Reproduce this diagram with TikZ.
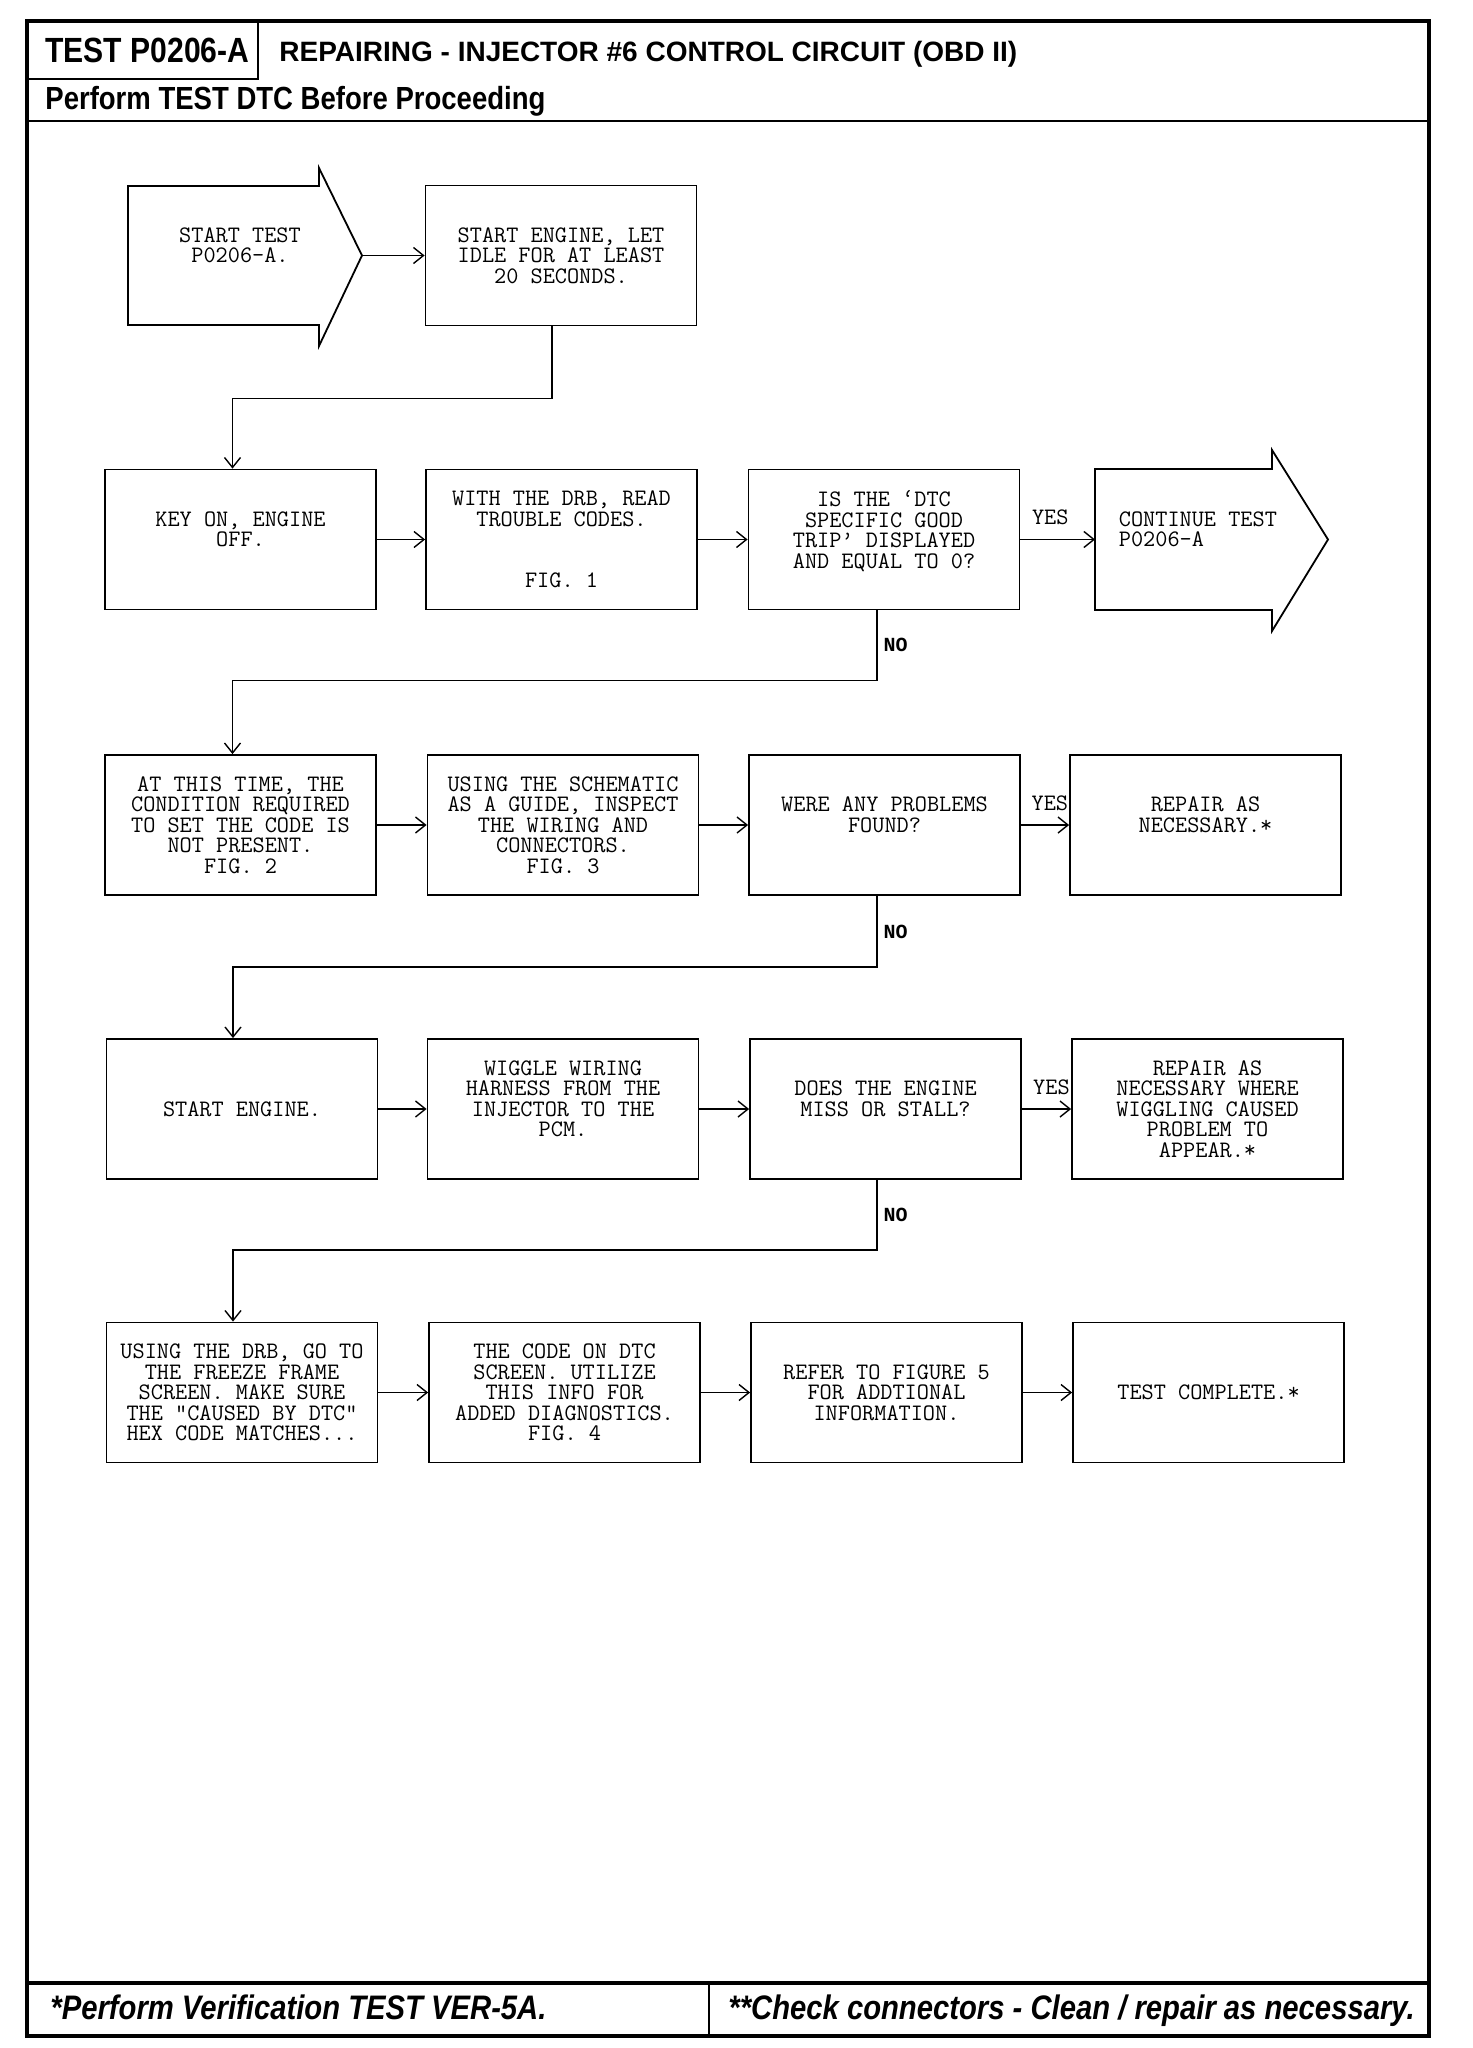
\documentclass[tikz,border=0pt]{standalone}
\usepackage{fontspec}
\newfontfamily\condfont[FakeStretch=0.86]{Liberation Sans}
\newfontfamily\plainsans{Liberation Sans}
\newfontfamily\boldmono{Liberation Mono}
\usetikzlibrary{arrows.meta,positioning}

\begin{document}
\begin{tikzpicture}[x=0.5pt,y=-0.5pt,
    stepbox/.style={draw,line width=0.9pt,minimum width=135.5pt,minimum height=70pt,align=center,inner sep=0pt,font=\ttfamily\fontsize{11.8}{10.25}\selectfont},
    link/.style={line width=0.7pt,-{Straight Barb[length=5pt,width=8pt]}},
    lbl/.style={inner sep=2pt,font=\ttfamily\fontsize{11.8}{10.25}\selectfont},
    nolbl/.style={inner sep=2pt,right=1pt,font=\boldmono\bfseries\fontsize{10}{10}\selectfont},
    rim/.style={line width=1.7pt}]

    \useasboundingbox (0,0) rectangle (1472,2048);

    \draw[rim] (27,21) rectangle (1429,2036);
    \draw[line width=1.35pt] (27,121) -- (1429,121);
    \draw[line width=1.2pt] (27,79) -- (258,79) -- (258,21);
    \draw[rim] (27,1983) -- (1429,1983);
    \draw[line width=1.2pt] (709,1983) -- (709,2036);

    \node[anchor=base west,inner sep=0pt,font=\condfont\bfseries\fontsize{17.5}{20}\selectfont] (testid) at (45,63) {TEST P0206-A};
    \node[anchor=base west,inner sep=0pt,font=\plainsans\bfseries\fontsize{14}{16}\selectfont] (title) at (279,62) {REPAIRING - INJECTOR \#6 CONTROL CIRCUIT (OBD II)};
    \node[anchor=base west,inner sep=0pt,font=\condfont\bfseries\fontsize{16}{18}\selectfont] (pretest) at (45,110) {Perform TEST DTC Before Proceeding};
    \node[anchor=base west,inner sep=0pt,font=\condfont\bfseries\itshape\fontsize{17}{19}\selectfont] (verify) at (50,2019) {*Perform Verification TEST VER-5A.};
    \node[anchor=base west,inner sep=0pt,font=\condfont\bfseries\itshape\fontsize{17}{19}\selectfont] (clean) at (728,2019) {**Check connectors - Clean / repair as necessary.};

    \draw[line width=0.9pt] (128,186) -- (319,186) -- (319,168) -- (362,255.5) -- (319,346) -- (319,325) -- (128,325) -- cycle;
    \node[stepbox,draw=none,minimum width=0pt] (start) at (240,255.5) {START TEST\\P0206-A.\\~};
    \coordinate (starttip) at (362,255.5);
    \node[stepbox] (engine) at (561,255.5) {START ENGINE, LET\\IDLE FOR AT LEAST\\20 SECONDS.};

    \node[stepbox] (keyon) at (240.5,539.5) {KEY ON, ENGINE\\OFF.\\~};
    \node[stepbox] (readcodes) at (561.5,539.5) {WITH THE DRB, READ\\TROUBLE CODES.\\~\\~\\FIG. 1};
    \node[stepbox] (dtc) at (884,539.5) {IS THE ‘DTC\\SPECIFIC GOOD\\TRIP’ DISPLAYED\\AND EQUAL TO 0?\\~};
    \draw[line width=0.9pt] (1095,469) -- (1272,469) -- (1272,450) -- (1328,539.5) -- (1272,631) -- (1272,610) -- (1095,610) -- cycle;
    \coordinate (conttail) at (1095,539.5);
    \node[stepbox,draw=none,minimum width=0pt,anchor=west,align=left] (cont) at (1118,539.5) {CONTINUE TEST\\P0206-A\\~};

    \node[stepbox] (cond) at (240.5,825) {AT THIS TIME, THE\\CONDITION REQUIRED\\TO SET THE CODE IS\\NOT PRESENT.\\FIG. 2};
    \node[stepbox] (inspect) at (563,825) {USING THE SCHEMATIC\\AS A GUIDE, INSPECT\\THE WIRING AND\\CONNECTORS.\\FIG. 3};
    \node[stepbox] (problems) at (884.5,825) {WERE ANY PROBLEMS\\FOUND?\\~};
    \node[stepbox] (repair) at (1205.5,825) {REPAIR AS\\NECESSARY.*\\~};

    \node[stepbox] (restart) at (242,1109) {START ENGINE.};
    \node[stepbox] (wiggle) at (563,1109) {WIGGLE WIRING\\HARNESS FROM THE\\INJECTOR TO THE\\PCM.\\~};
    \node[stepbox] (stall) at (885.5,1109) {DOES THE ENGINE\\MISS OR STALL?\\~};
    \node[stepbox] (wigglefix) at (1207.5,1109) {REPAIR AS\\NECESSARY WHERE\\WIGGLING CAUSED\\PROBLEM TO\\APPEAR.*};

    \node[stepbox] (freeze) at (242,1392.5) {USING THE DRB, GO TO\\THE FREEZE FRAME\\SCREEN. MAKE SURE\\THE "CAUSED BY DTC"\\HEX CODE MATCHES...};
    \node[stepbox] (codeinfo) at (564.5,1392.5) {THE CODE ON DTC\\SCREEN. UTILIZE\\THIS INFO FOR\\ADDED DIAGNOSTICS.\\FIG. 4};
    \node[stepbox] (refer) at (886.5,1392.5) {REFER TO FIGURE 5\\FOR ADDTIONAL\\INFORMATION.};
    \node[stepbox] (complete) at (1208.5,1392.5) {TEST COMPLETE.*};

    \draw[link] (starttip) -- (engine);
    \draw[link] ([xshift=-4.5pt]engine.south) -- ++(0,72) -| ([xshift=-4pt]keyon.north);
    \draw[link] (keyon) -- (readcodes);
    \draw[link] (readcodes) -- (dtc);
    \draw[link] (dtc) -- node[lbl,above=5pt,pos=0.4] {YES} (conttail);
    \draw[link] ([xshift=-3.5pt]dtc.south) -- node[nolbl] {NO} ++(0,70) -| ([xshift=-4pt]cond.north);

    \draw[link] (cond) -- (inspect);
    \draw[link] (inspect) -- (problems);
    \draw[link] (problems) -- node[lbl,above=5pt,pos=0.6] {YES} (repair);
    \draw[link] ([xshift=-3.75pt]problems.south) -- node[nolbl] {NO} ++(0,71) -| ([xshift=-4.5pt]restart.north);

    \draw[link] (restart) -- (wiggle);
    \draw[link] (wiggle) -- (stall);
    \draw[link] (stall) -- node[lbl,above=5pt,pos=0.6] {YES} (wigglefix);
    \draw[link] ([xshift=-4.25pt]stall.south) -- node[nolbl] {NO} ++(0,70) -| ([xshift=-4.5pt]freeze.north);

    \draw[link] (freeze) -- (codeinfo);
    \draw[link] (codeinfo) -- (refer);
    \draw[link] (refer) -- (complete);
\end{tikzpicture}
\end{document}
